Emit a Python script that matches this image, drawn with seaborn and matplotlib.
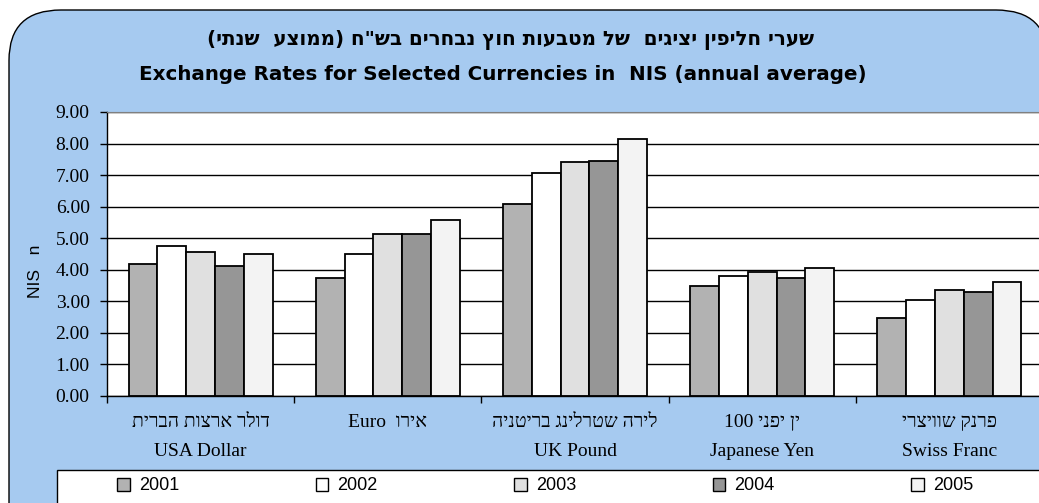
import re
import matplotlib
matplotlib.use('Agg')
import matplotlib.pyplot as plt
from matplotlib.patches import FancyBboxPatch, Patch, Rectangle
import pandas as pd
import seaborn as sns

# values (NIS, annual average)
currencies = ['USD', 'EUR', 'GBP', 'JPY', 'CHF']
heb_labels = ['דולר ארצות הברית', 'אירו  Euro', 'לירה שטרלינג בריטניה', 'ין יפני 100', 'פרנק שוויצרי']
eng_labels = ['USA Dollar', '', 'UK Pound', 'Japanese Yen', 'Swiss Franc']
years = ['2001', '2002', '2003', '2004', '2005']
rates_2001 = [4.19, 3.75, 6.07, 3.48, 2.47]
rates_2002 = [4.75, 4.50, 7.08, 3.79, 3.05]
rates_2003 = [4.56, 5.14, 7.40, 3.93, 3.37]
rates_2004 = [4.12, 5.14, 7.46, 3.74, 3.30]
rates_2005 = [4.50, 5.58, 8.16, 4.05, 3.62]
bar_colors = ['#B2B2B2', '#FFFFFF', '#E0E0E0', '#969696', '#F3F3F3']

title_heb = 'שערי חליפין יציגים  של מטבעות חוץ נבחרים בש"ח (ממוצע  שנתי)'
title_eng = 'Exchange Rates for Selected Currencies in  NIS (annual average)'


def heb(s):
    # matplotlib has no bidi support: put the Hebrew text in visual order
    r = s[::-1]
    r = re.sub(r'[A-Za-z0-9.]+', lambda m: m.group(0)[::-1], r)
    return r.translate(str.maketrans('()', ')('))


rows = []
for yr, vals in zip(years, [rates_2001, rates_2002, rates_2003, rates_2004, rates_2005]):
    for cur, v in zip(currencies, vals):
        rows.append({'currency': cur, 'year': yr, 'rate': v})
df = pd.DataFrame(rows)

sns.set_style('white')
plt.rcParams['text.color'] = 'black'
plt.rcParams['ytick.color'] = 'black'
serif = ['Liberation Serif', 'DejaVu Sans']
sans = ['Liberation Sans', 'DejaVu Sans']
bold_sans = ['DejaVu Sans']

fig = plt.figure(figsize=(10.39, 5.03), dpi=100)
fig.patch.set_facecolor('white')

# blue rounded chart area
bg = FancyBboxPatch((9 / 1039, -0.2), 1.0, 1.2 - 10 / 503,
                    boxstyle='round,pad=0,rounding_size=0.05',
                    transform=fig.transFigure, facecolor='#A6CAF0',
                    edgecolor='black', linewidth=1.0, mutation_aspect=2.0,
                    zorder=-10)
fig.patches.append(bg)
# white legend strip
fig.patches.append(Rectangle((57 / 1039, -0.05), 1.0, 0.05 + 33 / 503,
                             transform=fig.transFigure, facecolor='white',
                             edgecolor='black', linewidth=1.0, zorder=-5))

ax = fig.add_axes([107 / 1039, 1 - 396 / 503, 936 / 1039, 284 / 503])
ax.set_facecolor('white')

sns.barplot(data=df, x='currency', y='rate', hue='year', order=currencies,
            hue_order=years, palette=bar_colors, saturation=1, width=0.77,
            edgecolor='black', linewidth=1.3, ax=ax)

ax.set_xlim(-0.5, 4.5)
ax.set_ylim(0, 9)
ax.set_yticks([i for i in range(10)])
ax.set_yticklabels(['%.2f' % i for i in range(10)], family=serif, fontsize=14)
ax.yaxis.grid(True, color='black', linewidth=1.0)
ax.set_axisbelow(True)
ax.tick_params(axis='y', direction='out', length=5, width=1, color='black', pad=7.5, left=True)

ax.set_xticks(range(len(currencies)))
ax.set_xticklabels([])
ax.set_xticks([i - 0.5 for i in range(len(currencies) + 1)], minor=True)
ax.tick_params(axis='x', which='major', length=0)
ax.tick_params(axis='x', which='minor', direction='out', length=5, width=1, color='black', bottom=True)

for side in ['top', 'right']:
    ax.spines[side].set_color('#808080')
for side in ['left', 'bottom']:
    ax.spines[side].set_color('black')
    ax.spines[side].set_linewidth(1.0)

ax.set_xlabel('')
ax.set_ylabel('NIS   n', family=sans, fontsize=12.5, color='black')
ax.yaxis.set_label_coords(-0.068, 0.44)

for i in range(len(currencies)):
    ax.text(i, -0.095, heb(heb_labels[i]), transform=ax.get_xaxis_transform(),
            ha='center', va='center', family=serif, fontsize=14)
    ax.text(i, -0.195, eng_labels[i], transform=ax.get_xaxis_transform(),
            ha='center', va='center', family=serif, fontsize=14)

fig.text(0.491, 1 - 40 / 503, heb(title_heb), ha='center', va='center',
         family=bold_sans, fontweight='bold', fontsize=14.3)
fig.text(0.484, 1 - 74 / 503, title_eng, ha='center', va='center',
         family=bold_sans, fontweight='bold', fontsize=14.3)

ax.get_legend().remove()
handles = [Patch(facecolor=c, edgecolor='black', linewidth=1.0) for c in bar_colors]
leg = fig.legend(handles, years, loc='center left', ncol=5, mode='expand',
                 bbox_to_anchor=(117 / 1039, 1 - 486 / 503, 856 / 1039, 0),
                 frameon=False, prop={'family': sans, 'size': 13},
                 handlelength=0.7, handleheight=0.7, handletextpad=0.5,
                 borderaxespad=0, borderpad=0)

fig.savefig('out.png', dpi=100)
